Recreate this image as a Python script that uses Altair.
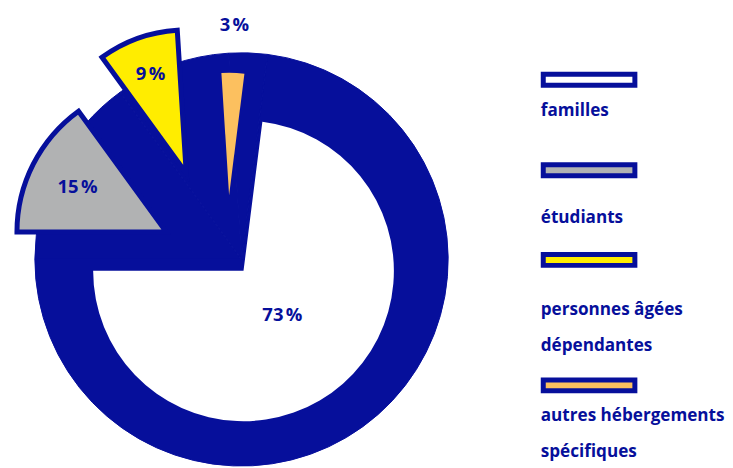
import math
import altair as alt
import pandas as pd

# ---- data ----
categories = ["familles", "étudiants", "personnes âgées dépendantes", "autres hébergements spécifiques"]
values = [73, 15, 9, 3]
value_labels = ["73\u202f%", "15\u202f%", "9\u202f%", "3\u202f%"]
legend_labels = ["familles", "étudiants", "personnes âgées\ndépendantes", "autres hébergements\nspécifiques"]

# ---- styles ----
NAVY = "#060f9b"
palette = ["#ffffff", "#b1b2b3", "#ffed00", "#fcc05f"]
FONT = "Open Sans"
START = math.radians(7.2)
OFF = 8  # page margin

df = pd.DataFrame({
    "cat": categories,
    "value": values,
    "label": value_labels,
    "legend": legend_labels,
    "order": list(range(len(categories))),
})

base = alt.Chart(df).transform_joinaggregate(
    total="sum(value)"
).transform_window(
    cum="sum(value)", sort=[alt.SortField("order")], frame=[None, 0]
).transform_calculate(
    t0=f"{START} + 2*PI*(datum.cum - datum.value)/datum.total",
    t1=f"{START} + 2*PI*datum.cum/datum.total",
).transform_calculate(
    mid="(datum.t0 + datum.t1)/2"
)

color = alt.Color("cat:N", scale=alt.Scale(domain=categories, range=palette), legend=None)


def px(x, y):
    return alt.value(x - OFF), alt.value(y - OFF)


layers = []

# navy disk behind everything
cx, cy = px(242.5, 259.5)
layers.append(
    base.mark_arc(radius=207.5, fill=NAVY, stroke=NAVY, strokeWidth=1).encode(
        theta=alt.Theta("t0:Q", scale=None), theta2="t1:Q", x=cx, y=cy
    )
)

# slice settings: centre (page px), radius, stroke width, label radius
slices = [
    ("familles", (244.5, 271), 151, 0, 59),
    ("autres hébergements spécifiques", (230, 195), 123, 0, 171),
    ("étudiants", (167, 232), 150, 5, 100),
    ("personnes âgées dépendantes", (187, 173), 144, 5, 106),
]

for cat, (sx, sy), r, sw, lr in slices:
    x, y = px(sx, sy)
    sub = base.transform_filter(alt.datum.cat == cat)
    arc_kwargs = dict(radius=r)
    if sw:
        arc_kwargs.update(stroke=NAVY, strokeWidth=sw, strokeJoin="miter")
    layers.append(
        sub.mark_arc(**arc_kwargs).encode(
            theta=alt.Theta("t0:Q", scale=None), theta2="t1:Q", fill=color, x=x, y=y
        )
    )

for cat, (sx, sy), r, sw, lr in slices:
    x, y = px(sx, sy)
    sub = base.transform_filter(alt.datum.cat == cat)
    layers.append(
        sub.mark_text(
            radius=lr, font=FONT, fontWeight="bold", fontSize=18.5, color=NAVY,
            align="center", baseline="middle",
        ).encode(theta=alt.Theta("mid:Q", scale=None), text="label:N", x=x, y=y)
    )

# custom legend
legend_rect_y = [73.5, 164.5, 254.5, 380.5]
legend_text_y = [115, 223, 315, 422]
for cat, ry, ty in zip(categories, legend_rect_y, legend_text_y):
    sub = alt.Chart(df).transform_filter(alt.datum.cat == cat)
    layers.append(
        sub.mark_rect(stroke=NAVY, strokeWidth=5).encode(
            x=alt.value(545.5 - OFF), x2=alt.value(637.5 - OFF),
            y=alt.value(ry - OFF), y2=alt.value(ry + 11 - OFF),
            fill=color,
        )
    )
    layers.append(
        sub.mark_text(
            font=FONT, fontWeight="bold", fontSize=17.2, color=NAVY,
            align="left", baseline="alphabetic", lineBreak="\n", lineHeight=36,
        ).encode(x=alt.value(543 - OFF), y=alt.value(ty - OFF), text="legend:N")
    )

chart = alt.layer(*layers).properties(
    width=720, height=460, padding=0, autosize="none"
).configure_view(stroke=None)

chart.save("out.html", embed_options={"renderer": "svg", "actions": False})
